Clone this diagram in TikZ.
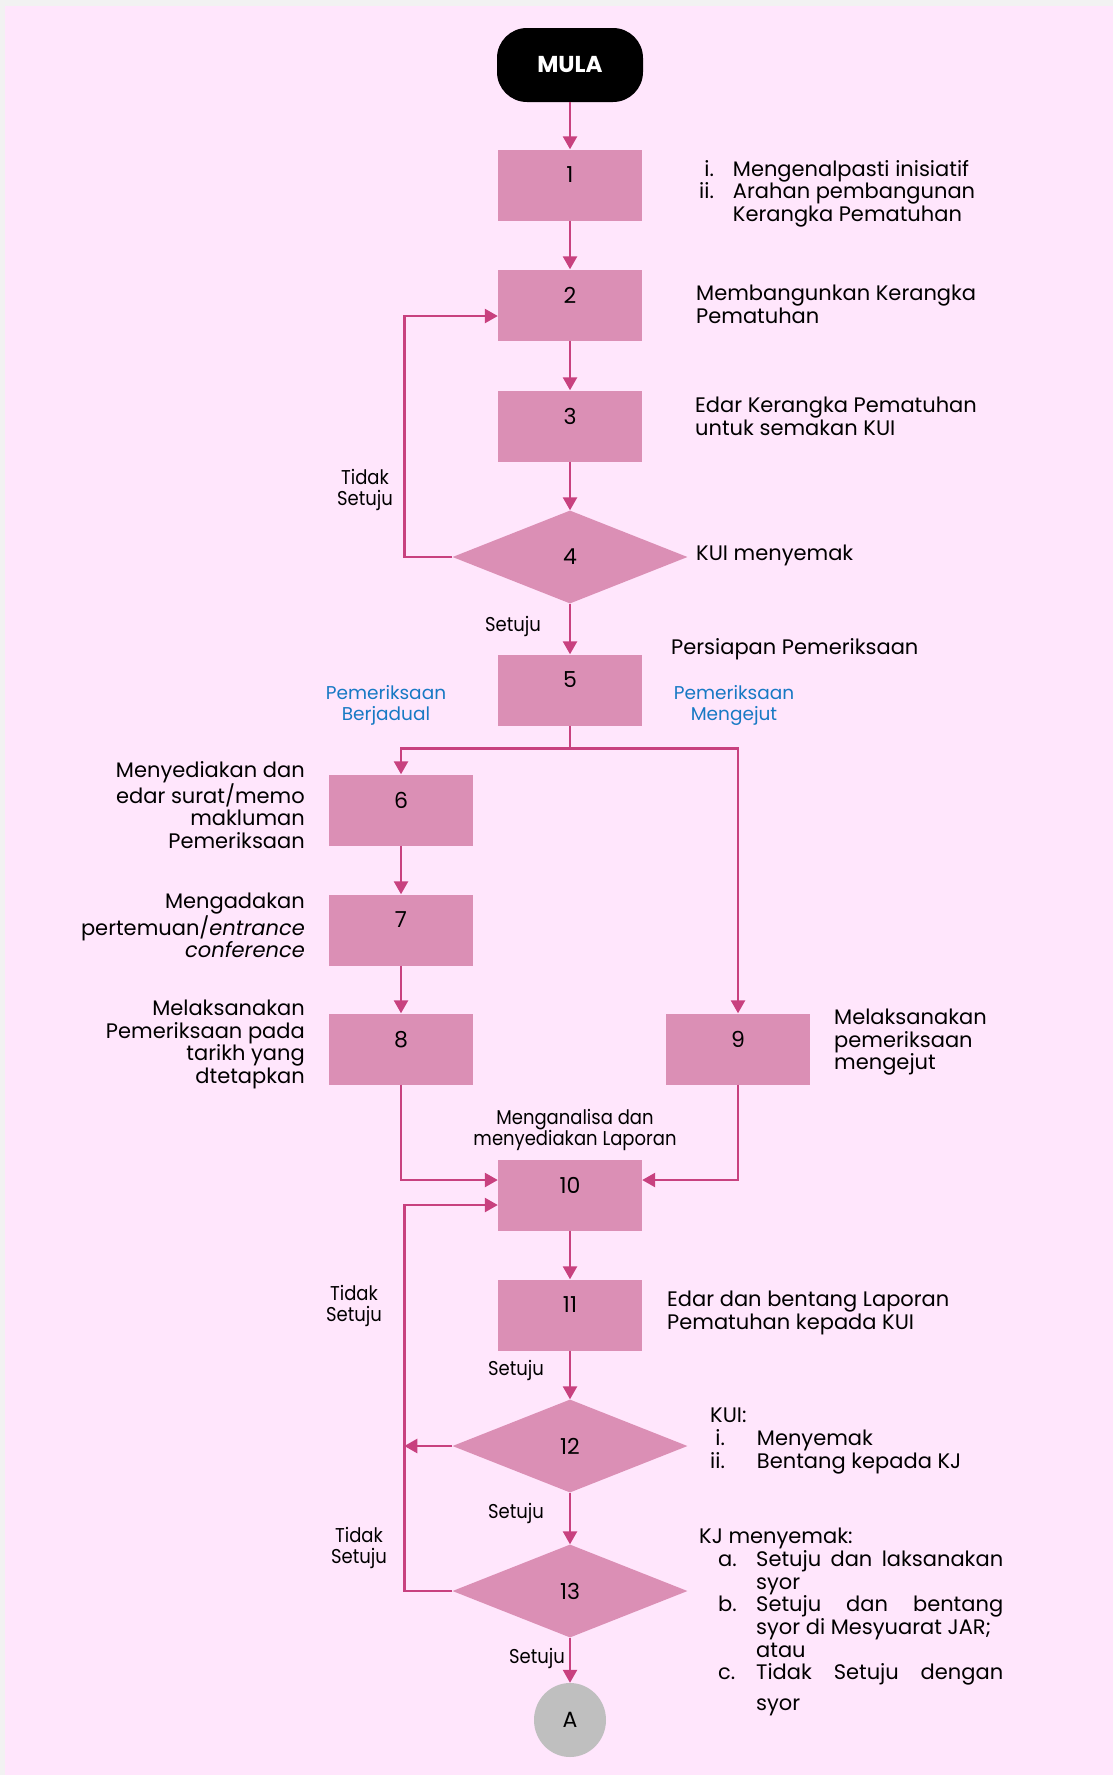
\documentclass[tikz,border=0pt]{standalone}
\usepackage{fontspec}
\setmainfont{Poppins}
\newfontfamily\narrowfont[FakeStretch=0.9]{Poppins}
\usetikzlibrary{arrows.meta,shapes.geometric}

\definecolor{bgpink}{RGB}{255,230,252}
\definecolor{boxpink}{RGB}{219,143,181}
\definecolor{linepink}{RGB}{200,65,127}
\definecolor{notebl}{RGB}{23,121,196}
\definecolor{stripgray}{RGB}{242,242,242}
\definecolor{circgray}{RGB}{191,191,191}

\begin{document}
\begin{tikzpicture}[x=1pt,y=-1pt,
	every node/.style={font=\fontsize{21}{22.5}\selectfont, inner sep=0pt},
	stepbox/.style={rectangle, fill=boxpink, minimum width=144pt, minimum height=71pt, text depth=20pt, font=\fontsize{22}{24}\selectfont},
	decision/.style={diamond, fill=boxpink, minimum width=235pt, minimum height=93pt, font=\fontsize{22}{24}\selectfont},
	note/.style={align=left, anchor=north west},
	rnote/.style={align=right, anchor=north east},
	answer/.style={font=\narrowfont\fontsize{20}{21}\selectfont, align=center},
	branch/.style={font=\fontsize{18.5}{21}\selectfont, text=notebl, align=center},
	flow/.style={draw=linepink, line width=2.5pt, -{Triangle[width=14pt,length=13pt]}}]
	\useasboundingbox (0,0) rectangle (1113,1775);
	\fill[stripgray] (0,0) rectangle (1113,1775);
	\fill[bgpink] (5,6) rectangle (1113,1775);
	
	\node[rectangle, rounded corners=30pt, fill=black, text=white, minimum width=146pt, minimum height=74pt, font=\fontsize{23}{24}\selectfont\bfseries] (mula) at (570,65) {MULA};
	\foreach \n/\ypos in {1/185,2/305,3/426,5/690,10/1195,11/1315}
		\node[stepbox] (s\n) at (570,\ypos) {\n};
	\foreach \n/\ypos in {6/810,7/930,8/1049}
		\node[stepbox] (s\n) at (401,\ypos) {\n};
	\node[stepbox] (s9) at (738,1049) {9};
	\node[decision] (d4) at (570,557) {4};
	\node[decision] (d12) at (570,1446) {12};
	\node[decision] (d13) at (570,1591) {13};
	\node[ellipse, fill=circgray, minimum width=72pt, minimum height=74pt, font=\fontsize{22}{24}\selectfont] (endA) at (570,1720) {A};
	
	% connectors
	\draw[flow] (mula) -- (s1);
	\foreach \a/\b in {s1/s2,s2/s3,s3/d4,d4/s5,s6/s7,s7/s8,s10/s11,s11/d12,d12/d13,d13/endA}
		\draw[flow] (\a) -- (\b);
	\draw[flow] (d4.west) -- ++(-48,0) |- ([yshift=-11pt]s2.west);
	\draw[flow] (s5.south) -- ++(0,23) coordinate (split) -| (s6.north);
	\draw[flow] (split) -| (s9.north);
	\draw[flow] (s8.south) |- ([yshift=15pt]s10.west);
	\draw[flow] (s9.south) |- ([yshift=15pt]s10.east);
	\draw[flow] (d13.west) -- ++(-48,0) coordinate (rail) |- ([yshift=-10pt]s10.west);
	\draw[flow] (d12.west) -- (d12.west -| rail);
	
	% answers on the connectors
	\node[answer] (no4) at (365,490) {Tidak\\Setuju};
	\node[answer] (yes4) at (513,626) {Setuju};
	\node[answer] (no12) at (354,1306) {Tidak\\Setuju};
	\node[answer] (yes11) at (516,1370) {Setuju};
	\node[answer] (yes12) at (516,1513) {Setuju};
	\node[answer] (no13) at (359,1548) {Tidak\\Setuju};
	\node[answer] (yes13) at (537,1658) {Setuju};
	\node[branch] (sched) at (386,705) {Pemeriksaan\\Berjadual};
	\node[branch] (surprise) at (734,705) {Pemeriksaan\\Mengejut};
	
	% step notes
	\node[note] (t1) at (699,160) {\begin{tabular}{@{}r@{\hspace{19pt}}l@{}}
		i. & Mengenalpasti inisiatif\\
		ii. & Arahan pembangunan\\
		& Kerangka Pematuhan
	\end{tabular}};
	\node[note] (t2) at (696,285) {Membangunkan Kerangka\\Pematuhan};
	\node[note] (t3) at (695,397) {Edar Kerangka Pematuhan\\untuk semakan KUI};
	\node[anchor=west] (t4) at (696,555) {KUI menyemak};
	\node[anchor=west] (t5) at (671,649) {Persiapan Pemeriksaan};
	\node[rnote] (t6) at (305,761) {Menyediakan dan\\edar surat/memo\\makluman\\Pemeriksaan};
	\node[rnote] (t7) at (305,893) {Mengadakan\\pertemuan/\textit{entrance}\\\textit{conference}};
	\node[rnote] (t8) at (305,1000) {Melaksanakan\\Pemeriksaan pada\\tarikh yang\\dtetapkan};
	\node[note] (t9) at (834,1009) {Melaksanakan\\pemeriksaan\\mengejut};
	\node[align=center, font=\narrowfont\fontsize{20}{19.5}\selectfont] (t10) at (575,1130) {Menganalisa dan\\menyediakan Laporan};
	\node[note] (t11) at (667,1291) {Edar dan bentang Laporan\\Pematuhan kepada KUI};
	\node[note] (t12) at (710,1407) {\begin{tabular}{@{}r@{\hspace{32pt}}l@{}}
		\multicolumn{2}{@{}l@{}}{KUI:}\\
		i. & Menyemak\\
		ii. & Bentang kepada KJ
	\end{tabular}};
	\node[note] (t13) at (699,1528) {\begin{tabular}{@{\hspace{19pt}}p{38pt}@{}l@{}}
		\multicolumn{2}{@{}l@{}}{KJ menyemak:}\\
		a. & \makebox[247pt][s]{Setuju dan laksanakan}\\
		& syor\\
		b. & \makebox[247pt][s]{Setuju dan bentang}\\
		& syor di Mesyuarat JAR;\\
		& atau\\
		c. & \makebox[247pt][s]{Tidak Setuju dengan}\\[8pt]
		& syor
	\end{tabular}};
	
\end{tikzpicture}
\end{document}
